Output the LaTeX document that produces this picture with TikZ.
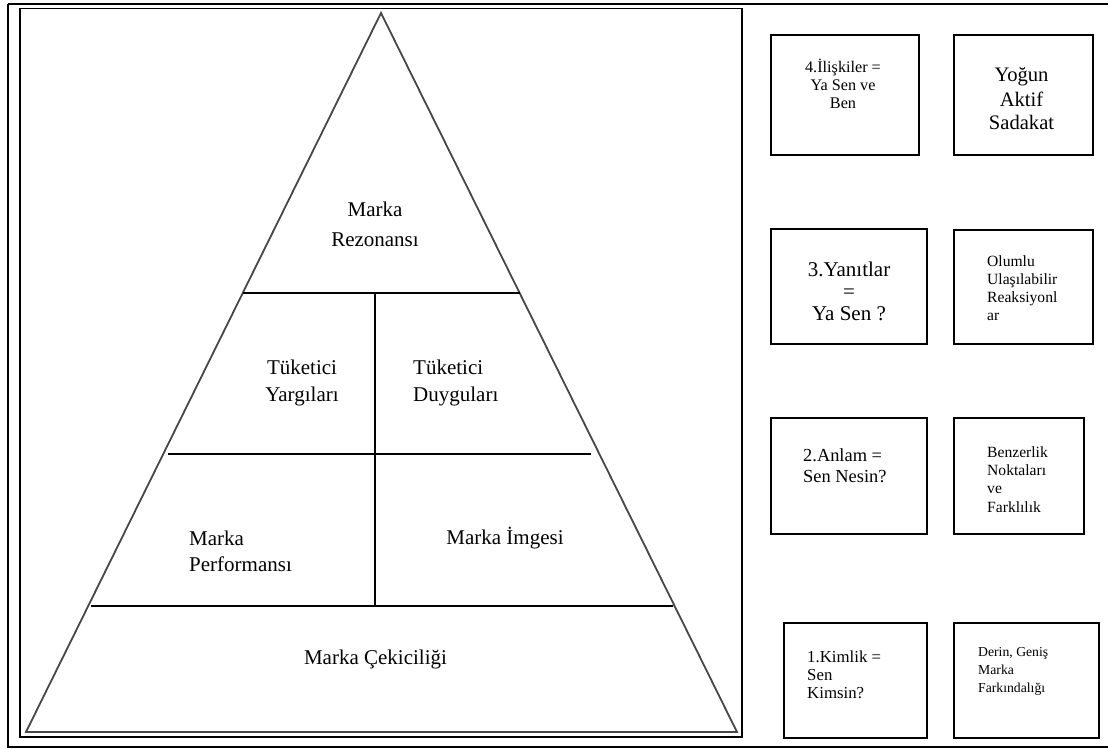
\documentclass[tikz,border=0pt]{standalone}
\usepackage{fontspec}
\setmainfont{Liberation Serif}
\begin{document}
\begin{tikzpicture}[x=1pt,y=-1pt,
  frame/.style={draw,line width=2pt},
  innerframe/.style={draw,line width=1.6pt},
  edge/.style={draw=black!72,line width=1.8pt,line join=miter},
  divider/.style={draw,line width=1.5pt},
  box/.style={draw,line width=2.2pt,inner sep=0pt,anchor=north west},
  lblc/.style={inner sep=0pt,anchor=base,align=center},
  lbll/.style={inner sep=0pt,anchor=base west,align=left}]
\useasboundingbox (0,0) rectangle (1108,749);
% frames
\draw[frame] (8,4) -- (1112,4);
\draw[frame] (8,4) -- (8,746.5) -- (1112,746.5);
\draw[innerframe] (20,8.5) rectangle (742,737);
% pyramid
\coordinate (apex) at (381,13);
\coordinate (bl) at (26,732);
\coordinate (br) at (737,732);
\draw[edge] (bl) -- (apex) -- (br) -- cycle;
\draw[divider] (243,293) -- (520,293);
\draw[divider] (168,454) -- (591,454);
\draw[divider] (91,606) -- (673,606);
\draw[divider] (375,293) -- (375,606);
% pyramid labels (anchor = baseline of last line)
\node[lblc,font=\fontsize{21}{30.5}\selectfont] (rez) at (375,246.5) {Marka\\Rezonansı};
\node[lblc,font=\fontsize{21}{27}\selectfont] (yarg) at (302,401) {Tüketici\\Yargıları};
\node[lbll,font=\fontsize{21}{27}\selectfont] (duyg) at (413,401) {Tüketici\\Duyguları};
\node[lbll,font=\fontsize{21}{26}\selectfont] (perf) at (189,571) {Marka\\Performansı};
\node[lblc,font=\fontsize{21}{26}\selectfont] (imge) at (505,544) {Marka İmgesi};
\node[lblc,font=\fontsize{21}{26}\selectfont] (cek) at (375.5,664) {Marka Çekiciliği};
% right boxes
\node[box,minimum width=148pt,minimum height=120pt] (b4a) at (770,34) {};
\node[box,minimum width=139pt,minimum height=120pt] (b4b) at (953,34) {};
\node[box,minimum width=156pt,minimum height=115pt] (b3a) at (770,228) {};
\node[box,minimum width=139pt,minimum height=114pt] (b3b) at (953,229) {};
\node[box,minimum width=156pt,minimum height=116pt] (b2a) at (770,417) {};
\node[box,minimum width=130pt,minimum height=116pt] (b2b) at (953,417) {};
\node[box,minimum width=143pt,minimum height=115pt] (b1a) at (783,622) {};
\node[box,minimum width=145pt,minimum height=115pt] (b1b) at (953,622) {};
% box texts (anchor = baseline of last line)
\node[lblc,font=\fontsize{16.2}{18}\selectfont] (t4a) at (843,109) {4.İlişkiler =\\Ya Sen ve\\Ben};
\node[lblc,font=\fontsize{20.6}{24}\selectfont] (t4b) at (1021.5,130) {Yoğun\\Aktif\\Sadakat};
\node[lblc,font=\fontsize{21}{22}\selectfont] (t3a) at (849,320) {3.Yanıtlar\\=\\Ya Sen ?};
\node[lbll,font=\fontsize{15.6}{17.7}\selectfont] (t3b) at (987,320) {Olumlu\\Ulaşılabilir\\Reaksiyonl\\ar};
\node[lbll,font=\fontsize{18.4}{21}\selectfont] (t2a) at (803,482) {2.Anlam =\\Sen Nesin?};
\node[lbll,font=\fontsize{15.6}{18.3}\selectfont] (t2b) at (987,512) {Benzerlik\\Noktaları\\ve\\Farklılık};
\node[lbll,font=\fontsize{16.8}{17.6}\selectfont] (t1a) at (807,698) {1.Kimlik =\\Sen\\Kimsin?};
\node[lbll,font=\fontsize{13.7}{17.8}\selectfont] (t1b) at (978,692.5) {Derin, Geniş\\Marka\\Farkındalığı};
\end{tikzpicture}
\end{document}
